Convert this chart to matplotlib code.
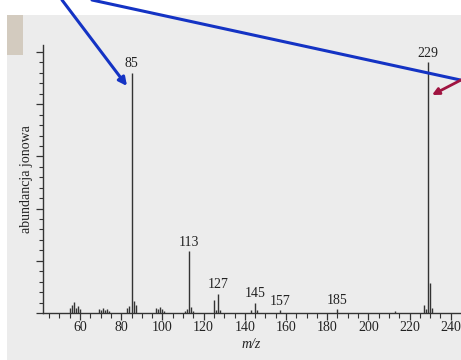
import numpy as np
import matplotlib.pyplot as plt
from matplotlib.patches import Rectangle, FancyArrowPatch
from matplotlib.ticker import MultipleLocator

# m/z and relative abundance
mz = [55, 56, 57, 58, 59, 60, 69, 70, 71, 72, 73, 74,
      83, 84, 85, 86, 87, 97, 98, 99, 100, 101,
      111, 112, 113, 114, 115, 125, 126, 127, 128,
      143, 145, 146, 157, 185, 213, 227, 228, 229, 230, 231]
abund = [2.0, 3.0, 4.2, 2.0, 2.8, 1.5, 1.4, 1.0, 1.8, 1.0, 1.5, 0.8,
         2.0, 2.5, 92.0, 4.5, 3.0, 1.8, 1.4, 2.4, 1.4, 0.8,
         0.8, 1.5, 23.6, 2.4, 0.8, 5.0, 1.0, 7.2, 1.0,
         1.0, 3.8, 1.0, 1.0, 1.4, 0.8, 3.0, 1.5, 96.0, 11.4, 1.8]

labels = [85, 113, 127, 145, 157, 185, 229]

xticks = list(range(60, 241, 20))

serif = ['Liberation Serif', 'DejaVu Serif']

fig = plt.figure(figsize=(4.61, 3.6), dpi=100)
fig.patch.set_facecolor('white')

# scanned page background in an axes under everything
bg = fig.add_axes([0, 0, 1, 1], zorder=-1)
bg.set_xlim(0, 461)
bg.set_ylim(360, 0)
bg.axis('off')
bg.add_patch(Rectangle((7, 15), 454, 345, facecolor='#ececec', edgecolor='none'))
bg.add_patch(Rectangle((7, 15), 16, 40, facecolor='#d3cbbf', edgecolor='none'))

ax = fig.add_axes([43 / 461, 1 - 313 / 360, 417 / 461, 268 / 360], zorder=1)
ax.patch.set_alpha(0)

ax.vlines(mz, 0, abund, color='#333333', linewidth=1.0)

for m in labels:
    ax.annotate(str(m), xy=(m, abund[mz.index(m)]), xytext=(0, 2),
                textcoords='offset points', ha='center', va='bottom',
                family=serif, fontsize=10, color='#222222')

ax.set_xlim(42, 244.5)
ax.set_ylim(0, 102.7)
ax.set_xticks(xticks)
ax.xaxis.set_minor_locator(MultipleLocator(5))
ax.yaxis.set_major_locator(MultipleLocator(20))
ax.yaxis.set_minor_locator(MultipleLocator(4))
ax.set_yticklabels([])
for lab in ax.get_xticklabels():
    lab.set_family(serif)
    lab.set_fontsize(10)
    lab.set_color('#222222')

ax.tick_params(axis='x', which='major', direction='out', length=5, width=0.9, color='#333333', pad=0.5)
ax.tick_params(axis='x', which='minor', direction='out', length=3.5, width=0.8, color='#333333')
ax.tick_params(axis='y', which='major', direction='out', length=5, width=0.9, color='#333333')
ax.tick_params(axis='y', which='minor', direction='out', length=3, width=0.8, color='#333333')

for s in ['top', 'right']:
    ax.spines[s].set_visible(False)
for s in ['left', 'bottom']:
    ax.spines[s].set_color('#333333')
    ax.spines[s].set_linewidth(1.0)

ax.set_ylabel('abundancja jonowa', family=serif, fontsize=10, color='#222222', labelpad=-1)
ax.set_xlabel('m/z', family=serif, style='italic', fontsize=10, color='#222222', labelpad=3)

# annotation arrows drawn over the scan, in picture pixels
ov = fig.add_axes([0, 0, 1, 1], zorder=2)
ov.set_xlim(0, 461)
ov.set_ylim(360, 0)
ov.axis('off')
ov.patch.set_alpha(0)
ov.add_patch(FancyArrowPatch((62, 0), (127, 86), arrowstyle='-|>', mutation_scale=12,
                             color='#1433c4', linewidth=2.2, shrinkA=0, shrinkB=0))
ov.add_patch(FancyArrowPatch((92, 0), (465, 81), arrowstyle='-', color='#1433c4',
                             linewidth=2.2, shrinkA=0, shrinkB=0))
ov.add_patch(FancyArrowPatch((461, 80), (432, 95), arrowstyle='-|>', mutation_scale=10,
                             color='#a01440', linewidth=2.0, shrinkA=0, shrinkB=0))

fig.savefig('out.png', dpi=100)
